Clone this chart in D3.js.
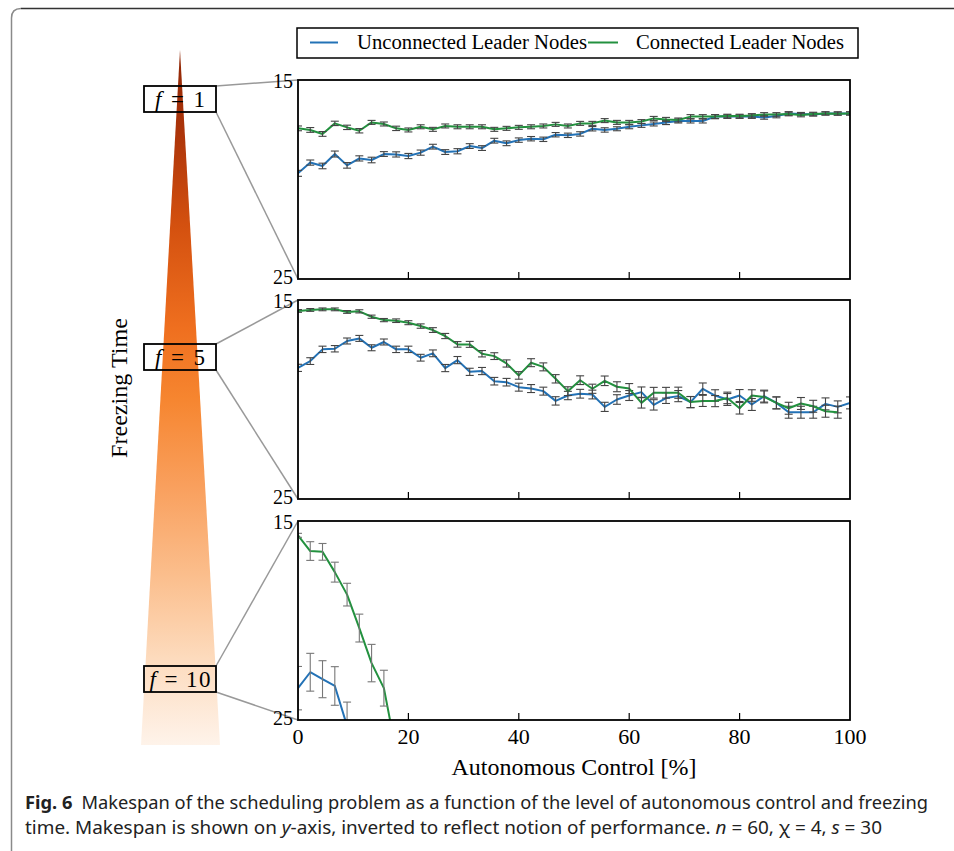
<!DOCTYPE html>
<html>
<head>
<meta charset="utf-8">
<script src="https://cdn.jsdelivr.net/npm/d3@7"></script>
<style>
  body { margin: 0; background: #fff; }
  svg { display: block; }
</style>
</head>
<body>
<div id="chart"></div>
<script>
// autonomous control levels [%]
var control = [0, 2.22, 4.44, 6.67, 8.89, 11.11, 13.33, 15.56, 17.78, 20, 22.22, 24.44, 26.67, 28.89, 31.11,
    33.33, 35.56, 37.78, 40, 42.22, 44.44, 46.67, 48.89, 51.11, 53.33, 55.56, 57.78, 60, 62.22, 64.44,
    66.67, 68.89, 71.11, 73.33, 75.56, 77.78, 80, 82.22, 84.44, 86.67, 88.89, 91.11, 93.33, 95.56, 97.78, 100];

var freezing = ["f = 1", "f = 5", "f = 10"];
var seriesNames = ["Unconnected Leader Nodes", "Connected Leader Nodes"];
var yTicks = [15, 25];
var xTicks = [0, 20, 40, 60, 80, 100];

// f = 1
var unconnF1 = [19.69, 19.15, 19.32, 18.72, 19.29, 18.94, 19.02, 18.72, 18.74, 18.82, 18.65, 18.35, 18.62, 18.58, 18.32,
    18.42, 18.05, 18.18, 18.02, 17.95, 17.98, 17.75, 17.78, 17.71, 17.45, 17.51, 17.45, 17.35, 17.28, 17.21,
    17.14, 17.06, 17.06, 17.06, 16.84, 16.84, 16.84, 16.84, 16.88, 16.81, 16.68, 16.71, 16.73, 16.68, 16.68, 16.68];
var unconnF1Err = [0.15, 0.13, 0.14, 0.15, 0.14, 0.13, 0.14, 0.12, 0.13, 0.13, 0.13, 0.12, 0.12, 0.13, 0.12,
    0.12, 0.12, 0.12, 0.11, 0.11, 0.11, 0.11, 0.11, 0.11, 0.11, 0.11, 0.1, 0.1, 0.1, 0.1,
    0.1, 0.1, 0.1, 0.1, 0.1, 0.09, 0.09, 0.09, 0.09, 0.09, 0.09, 0.08, 0.08, 0.08, 0.08, 0.08];
var connF1 = [17.43, 17.51, 17.71, 17.18, 17.38, 17.55, 17.13, 17.21, 17.43, 17.51, 17.35, 17.48, 17.31, 17.35, 17.35,
    17.35, 17.48, 17.43, 17.38, 17.35, 17.31, 17.23, 17.31, 17.18, 17.18, 17.04, 17.13, 17.13, 17.09, 16.93,
    16.98, 17.01, 16.84, 16.84, 16.84, 16.81, 16.81, 16.78, 16.73, 16.73, 16.71, 16.76, 16.71, 16.68, 16.69, 16.68];
var connF1Err = [0.12, 0.12, 0.12, 0.11, 0.11, 0.11, 0.1, 0.1, 0.11, 0.1, 0.1, 0.1, 0.1, 0.1, 0.1,
    0.1, 0.1, 0.1, 0.1, 0.1, 0.1, 0.1, 0.1, 0.1, 0.1, 0.1, 0.1, 0.1, 0.1, 0.1,
    0.1, 0.1, 0.1, 0.1, 0.1, 0.09, 0.09, 0.09, 0.09, 0.09, 0.09, 0.09, 0.09, 0.08, 0.08, 0.08];

// f = 5
var unconnF5 = [18.41, 18.07, 17.48, 17.45, 17.06, 16.93, 17.40, 17.11, 17.48, 17.48, 17.90, 17.68, 18.42, 18.02, 18.61,
    18.57, 19.08, 19.13, 19.38, 19.45, 19.58, 20.07, 19.80, 19.71, 19.75, 20.37, 20.00, 19.80, 19.63, 20.27,
    19.93, 19.83, 20.13, 19.46, 19.80, 20.00, 19.80, 20.25, 19.83, 20.17, 20.64, 20.64, 20.64, 20.22, 20.37, 20.17];
var unconnF5Err = [0.18, 0.17, 0.16, 0.16, 0.15, 0.15, 0.15, 0.15, 0.16, 0.16, 0.17, 0.17, 0.18, 0.18, 0.18,
    0.18, 0.19, 0.19, 0.2, 0.2, 0.2, 0.21, 0.21, 0.22, 0.22, 0.23, 0.24, 0.25, 0.26, 0.26,
    0.27, 0.28, 0.28, 0.29, 0.29, 0.3, 0.3, 0.3, 0.3, 0.3, 0.3, 0.3, 0.3, 0.3, 0.3, 0.3];
var connF5 = [15.55, 15.50, 15.47, 15.47, 15.60, 15.57, 15.84, 16.01, 16.04, 16.14, 16.31, 16.51, 16.81, 17.23, 17.23,
    17.70, 17.82, 18.19, 18.79, 18.15, 18.36, 18.96, 19.58, 19.03, 19.46, 19.06, 19.36, 19.45, 20.17, 19.66,
    19.66, 19.66, 20.13, 20.07, 20.08, 19.92, 20.44, 19.80, 19.87, 20.17, 20.44, 20.20, 20.34, 20.59, 20.64, null];
var connF5Err = [0.07, 0.07, 0.07, 0.07, 0.07, 0.08, 0.08, 0.08, 0.09, 0.1, 0.11, 0.12, 0.13, 0.14, 0.15,
    0.16, 0.17, 0.18, 0.19, 0.2, 0.2, 0.21, 0.22, 0.22, 0.23, 0.24, 0.25, 0.25, 0.26, 0.27,
    0.27, 0.28, 0.28, 0.28, 0.28, 0.29, 0.29, 0.29, 0.3, 0.3, 0.3, 0.3, 0.3, 0.3, 0.3, null];

// f = 10 (values beyond 25 are cut off by the panel)
var unconnF10 = [23.40, 22.60, 22.95, 23.29, 25.3];
var unconnF10Err = [1.09, 0.95, 0.93, 0.97, 1.2];
var connF10 = [15.72, 16.51, 16.55, 17.57, 18.70, 20.38, 22.14, 23.40, 26.6];
var connF10Err = [0.1, 0.47, 0.42, 0.5, 0.57, 0.7, 0.94, 0.9, 1.0];

var panels = [
    { label: freezing[0], series: [[unconnF1, unconnF1Err], [connF1, connF1Err]] },
    { label: freezing[1], series: [[unconnF5, unconnF5Err], [connF5, connF5Err]] },
    { label: freezing[2], series: [[unconnF10, unconnF10Err], [connF10, connF10Err]] }
];
var colors = ["#2372b6", "#23913f"];

var width = 954, height = 851;
var left = 298, right = 850, panelTops = [80, 300, 521], panelH = 199;
var serif = "'Liberation Serif', 'DejaVu Serif', serif";

var svg = d3.select("#chart").append("svg")
    .attr("width", width)
    .attr("height", height);

// outer figure frame
svg.append("path")
    .attr("d", "M11.5,851 L11.5,18 Q11.5,8.5 21,8.5")
    .attr("fill", "none").attr("stroke", "#8a8a8a").attr("stroke-width", 1.5);
svg.append("path")
    .attr("d", "M21,8.5 L954,8.5")
    .attr("fill", "none").attr("stroke", "#333").attr("stroke-width", 1.5);

var defs = svg.append("defs");

// freezing time cone
var grad = defs.append("linearGradient").attr("id", "cone")
    .attr("x1", 0).attr("y1", 0).attr("x2", 0).attr("y2", 1);
[[0, "#8e2606"], [0.12, "#ad350a"], [0.25, "#d3500f"], [0.4, "#ef6f1f"], [0.5, "#f6852f"],
 [0.63, "#f9a05e"], [0.76, "#fbbf8e"], [0.88, "#fddcbf"], [1, "#fef3ea"]].forEach(function (s) {
    grad.append("stop").attr("offset", s[0]).attr("stop-color", s[1]);
});
svg.append("path")
    .attr("d", "M180,50 L220,745 L141,745 Z")
    .attr("fill", "url(#cone)");

var x = d3.scaleLinear().domain([0, 100]).range([left, right]);

var boxTops = [86, 344, 666], boxH = 26, boxL = 144, boxR = 216;
var labelW = [50, 50, 61];

panels.forEach(function (p, k) {
    var top = panelTops[k], bottom = top + panelH;
    var y = d3.scaleLinear().domain([15, 25]).range([top, bottom]);

    // zoom connector lines
    svg.append("line").attr("x1", boxR).attr("y1", boxTops[k]).attr("x2", left).attr("y2", top)
        .attr("stroke", "#999").attr("stroke-width", 1.5);
    svg.append("line").attr("x1", boxR).attr("y1", boxTops[k] + boxH).attr("x2", left).attr("y2", bottom)
        .attr("stroke", "#999").attr("stroke-width", 1.5);

    // label box
    svg.append("rect")
        .attr("x", boxL).attr("y", boxTops[k]).attr("width", boxR - boxL).attr("height", boxH)
        .attr("fill", "none").attr("stroke", "#000").attr("stroke-width", 1.8);
    var parts = p.label.split(" ");
    var lt = svg.append("text")
        .attr("x", (boxL + boxR) / 2).attr("y", boxTops[k] + boxH / 2 + 8)
        .attr("text-anchor", "middle")
        .attr("textLength", labelW[k]).attr("lengthAdjust", "spacing")
        .style("font-family", serif).style("font-size", "23px");
    lt.append("tspan").style("font-style", "italic").text(parts[0]);
    lt.append("tspan").text(" " + parts[1] + " " + parts[2]);

    var clipId = "clip" + k;
    defs.append("clipPath").attr("id", clipId).append("rect")
        .attr("x", left).attr("y", top).attr("width", right - left).attr("height", panelH);

    var g = svg.append("g").attr("clip-path", "url(#" + clipId + ")");

    p.series.forEach(function (s, si) {
        var vals = s[0], errs = s[1];
        var pts = vals.map(function (v, i) { return { x: control[i], v: v, e: errs[i] }; })
            .filter(function (d) { return d.v !== null; });

        g.append("path")
            .datum(pts)
            .attr("fill", "none")
            .attr("stroke", colors[si])
            .attr("stroke-width", 2)
            .attr("stroke-linejoin", "round")
            .attr("d", d3.line().x(function (d) { return x(d.x); }).y(function (d) { return y(d.v); }));

        var eb = g.append("g").selectAll("g")
            .data(pts)
            .enter().append("g")
            .attr("stroke", k === 2 ? "#777" : "#444")
            .attr("stroke-width", 1.1);
        eb.append("line")
            .attr("x1", function (d) { return x(d.x); }).attr("x2", function (d) { return x(d.x); })
            .attr("y1", function (d) { return y(d.v - d.e); }).attr("y2", function (d) { return y(d.v + d.e); });
        eb.append("line")
            .attr("x1", function (d) { return x(d.x) - 4; }).attr("x2", function (d) { return x(d.x) + 4; })
            .attr("y1", function (d) { return y(d.v - d.e); }).attr("y2", function (d) { return y(d.v - d.e); });
        eb.append("line")
            .attr("x1", function (d) { return x(d.x) - 4; }).attr("x2", function (d) { return x(d.x) + 4; })
            .attr("y1", function (d) { return y(d.v + d.e); }).attr("y2", function (d) { return y(d.v + d.e); });
    });

    // x ticks (inward)
    svg.append("g").selectAll("line")
        .data(xTicks.slice(1, -1))
        .enter().append("line")
        .attr("x1", function (d) { return x(d); }).attr("x2", function (d) { return x(d); })
        .attr("y1", bottom).attr("y2", bottom - 7)
        .attr("stroke", "#000").attr("stroke-width", 1.2);

    // frame
    svg.append("rect")
        .attr("x", left).attr("y", top).attr("width", right - left).attr("height", panelH)
        .attr("fill", "none").attr("stroke", "#000").attr("stroke-width", 1.8);

    // y tick labels (15 at top, 25 at bottom)
    svg.append("g").selectAll("text")
        .data(yTicks)
        .enter().append("text")
        .attr("x", left - 5)
        .attr("y", function (d) { return y(d) + (d === 15 ? 8 : 5); })
        .attr("text-anchor", "end")
        .style("font-family", serif).style("font-size", "20px")
        .text(function (d) { return d; });

    if (k === 2) {
        svg.append("g").selectAll("text")
            .data(xTicks)
            .enter().append("text")
            .attr("x", function (d) { return x(d); })
            .attr("y", bottom + 24)
            .attr("text-anchor", "middle")
            .style("font-family", serif).style("font-size", "22px")
            .text(function (d) { return d; });
    }
});

// axis titles
svg.append("text")
    .attr("x", 574).attr("y", 775)
    .attr("text-anchor", "middle")
    .attr("textLength", 245).attr("lengthAdjust", "spacingAndGlyphs")
    .style("font-family", serif).style("font-size", "23px")
    .text("Autonomous Control [%]");
svg.append("text")
    .attr("transform", "translate(127,388) rotate(-90)")
    .attr("text-anchor", "middle")
    .attr("textLength", 140).attr("lengthAdjust", "spacingAndGlyphs")
    .style("font-family", serif).style("font-size", "23px")
    .text("Freezing Time");

// legend
svg.append("rect")
    .attr("x", 297).attr("y", 28).attr("width", 561).attr("height", 30)
    .attr("fill", "#fff").attr("stroke", "#000").attr("stroke-width", 1.5);
var legX = [[310, 338, 357, 230], [588, 618, 636, 208]];
seriesNames.forEach(function (name, i) {
    svg.append("line")
        .attr("x1", legX[i][0]).attr("x2", legX[i][1]).attr("y1", 42.5).attr("y2", 42.5)
        .attr("stroke", colors[i]).attr("stroke-width", 2);
    svg.append("text")
        .attr("x", legX[i][2]).attr("y", 49)
        .attr("textLength", legX[i][3]).attr("lengthAdjust", "spacingAndGlyphs")
        .style("font-family", serif).style("font-size", "20px")
        .text(name);
});

// caption
var sans = "'Noto Sans', 'Open Sans', sans-serif";
var c1 = svg.append("text").attr("x", 25).attr("y", 809)
    .attr("textLength", 903).attr("lengthAdjust", "spacingAndGlyphs")
    .style("font-family", sans).style("font-size", "17.5px").style("fill", "#222");
c1.append("tspan").style("font-weight", "bold").text("Fig. 6");
c1.append("tspan").text("\u2002Makespan of the scheduling problem as a function of the level of autonomous control and freezing");
var c2 = svg.append("text").attr("x", 25).attr("y", 834)
    .attr("textLength", 857).attr("lengthAdjust", "spacingAndGlyphs")
    .style("font-family", sans).style("font-size", "17.5px").style("fill", "#222");
c2.append("tspan").text("time. Makespan is shown on ");
c2.append("tspan").style("font-style", "italic").text("y");
c2.append("tspan").text("-axis, inverted to reflect notion of performance. ");
c2.append("tspan").style("font-style", "italic").text("n");
c2.append("tspan").text(" = 60, \u03c7 = 4, ");
c2.append("tspan").style("font-style", "italic").text("s");
c2.append("tspan").text(" = 30");
</script>
</body>
</html>
